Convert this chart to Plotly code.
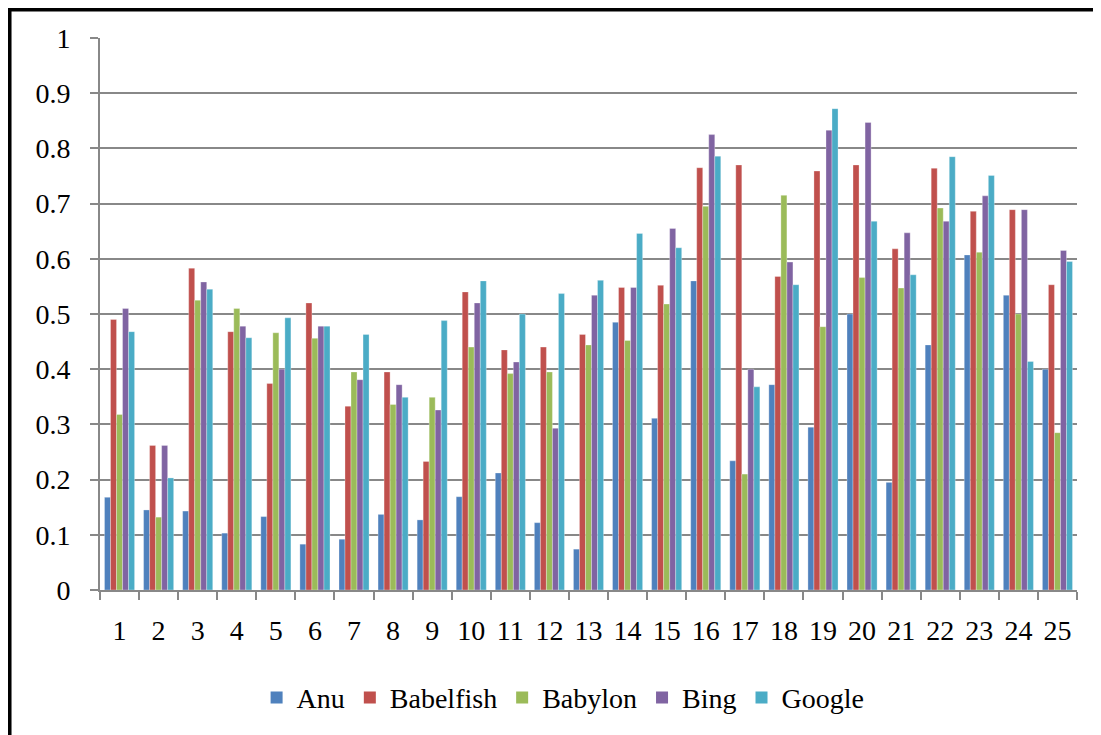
import plotly.graph_objects as go

categories = [str(i) for i in range(1, 26)]

anu = [0.168, 0.145, 0.143, 0.103, 0.133, 0.083, 0.092, 0.137, 0.127, 0.169,
       0.212, 0.122, 0.074, 0.485, 0.311, 0.560, 0.234, 0.372, 0.295, 0.500,
       0.195, 0.444, 0.607, 0.534, 0.400]
babelfish = [0.490, 0.262, 0.583, 0.468, 0.374, 0.520, 0.333, 0.395, 0.233, 0.540,
             0.435, 0.440, 0.463, 0.548, 0.552, 0.765, 0.770, 0.568, 0.759, 0.770,
             0.618, 0.764, 0.686, 0.689, 0.553]
babylon = [0.318, 0.132, 0.525, 0.510, 0.466, 0.456, 0.395, 0.336, 0.349, 0.440,
           0.392, 0.395, 0.444, 0.452, 0.518, 0.695, 0.210, 0.715, 0.477, 0.566,
           0.547, 0.692, 0.612, 0.500, 0.285]
bing = [0.510, 0.262, 0.558, 0.478, 0.400, 0.478, 0.381, 0.372, 0.326, 0.520,
        0.413, 0.293, 0.534, 0.548, 0.655, 0.825, 0.400, 0.594, 0.833, 0.847,
        0.647, 0.668, 0.714, 0.689, 0.615]
google = [0.468, 0.203, 0.545, 0.457, 0.493, 0.478, 0.463, 0.349, 0.488, 0.560,
          0.500, 0.537, 0.561, 0.646, 0.620, 0.786, 0.368, 0.553, 0.872, 0.668,
          0.571, 0.785, 0.751, 0.414, 0.595]

series_names = ["Anu", "Babelfish", "Babylon", "Bing", "Google"]
series_values = [anu, babelfish, babylon, bing, google]
colors = ["#4F81BD", "#C0504D", "#9BBB59", "#8064A2", "#4BACC6"]

y_ticks = [0, 0.1, 0.2, 0.3, 0.4, 0.5, 0.6, 0.7, 0.8, 0.9, 1]
y_tick_labels = ["0", "0.1", "0.2", "0.3", "0.4", "0.5", "0.6", "0.7", "0.8", "0.9", "1"]

fig = go.Figure()
for name, vals, col in zip(series_names, series_values, colors):
    fig.add_trace(go.Bar(
        x=categories, y=vals, name=name, legendgroup=name, showlegend=False,
        marker=dict(color=col, line=dict(color="rgba(255,255,255,0.6)", width=0.5)),
    ))
# legend entries with square swatches
for name, col in zip(series_names, colors):
    fig.add_trace(go.Scatter(
        x=[None], y=[None], mode="markers", name=name, legendgroup=name,
        marker=dict(symbol="square", size=12, color=col),
    ))

font_family = "Liberation Serif"
fs = 28

fig.update_layout(
    width=1101, height=735,
    margin=dict(l=92, r=32, t=30, b=153),
    paper_bgcolor="white", plot_bgcolor="white",
    barmode="group", bargap=0.23, bargroupgap=0,
    font=dict(family=font_family, size=fs, color="black"),
    showlegend=True,
    legend=dict(orientation="h", x=0.474, xanchor="center", y=-0.15, yanchor="top",
                font=dict(family=font_family, size=fs, color="black"),
                tracegroupgap=0),
    xaxis=dict(
        type="category", categoryorder="array", categoryarray=categories,
        tickson="boundaries", ticks="outside", ticklen=8,
        tickcolor="#888888", tickwidth=2,
        showline=True, linecolor="#888888", linewidth=2,
        showgrid=False, ticklabelstandoff=14,
        tickfont=dict(family=font_family, size=fs, color="black"),
    ),
    yaxis=dict(
        range=[0, 1], tickvals=y_ticks, ticktext=y_tick_labels,
        ticks="outside", ticklen=8, tickcolor="#888888", tickwidth=2,
        showline=True, linecolor="#888888", linewidth=2,
        showgrid=True, gridcolor="#888888", gridwidth=2,
        zeroline=False, ticklabelstandoff=14,
        tickfont=dict(family=font_family, size=fs, color="black"),
    ),
)

# outer border (black left/top, light right)
fig.add_shape(type="line", xref="paper", yref="paper",
              x0=-0.0926, x1=-0.0926, y0=1.052, y1=-0.3, line=dict(color="black", width=4))
fig.add_shape(type="line", xref="paper", yref="paper",
              x0=-0.0946, x1=1.0235, y0=1.0516, y1=1.0516, line=dict(color="black", width=4))
fig.add_shape(type="line", xref="paper", yref="paper",
              x0=1.0235, x1=1.0235, y0=1.05, y1=-0.3, line=dict(color="#dddddd", width=1))

fig.write_html("out.html")
